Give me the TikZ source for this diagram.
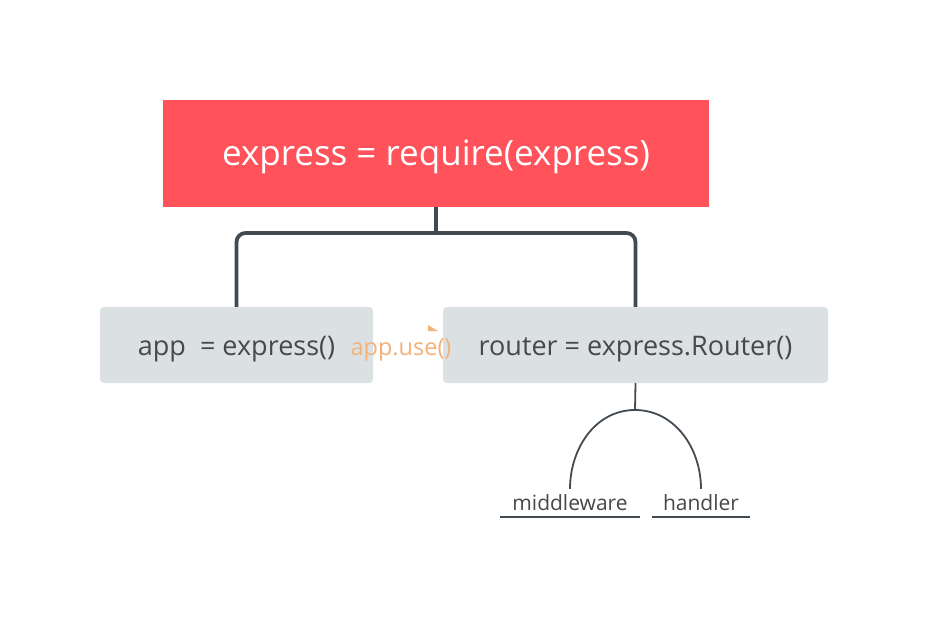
\documentclass[tikz,border=0pt]{standalone}
\usepackage{fontspec}
\setmainfont{Open Sans}
\usetikzlibrary{positioning}

\definecolor{rootred}{RGB}{255,82,90}
\definecolor{boxgray}{RGB}{219,225,227}
\definecolor{linedark}{RGB}{66,74,82}
\definecolor{usecolor}{RGB}{242,178,120}
\definecolor{textgray}{RGB}{72,72,72}

\begin{document}
\begin{tikzpicture}[x=1pt,y=-1pt,
	rootbox/.style={fill=rootred,text=white,font=\fontsize{35}{42}\selectfont,text height=31.6pt,text depth=8pt,minimum width=546pt,minimum height=107pt,inner sep=0pt},
	leafbox/.style={fill=boxgray,text=textgray,rounded corners=4pt,font=\fontsize{27}{32}\selectfont,text height=26pt,text depth=6pt,minimum height=76pt,inner sep=0pt},
	leaf/.style={text=textgray,font=\fontsize{21}{25}\selectfont,minimum height=28pt,inner sep=0pt},
	branch/.style={draw=linedark,line width=3.8pt,rounded corners=9pt},
	twig/.style={draw=linedark,line width=1.8pt}]
	\useasboundingbox[fill=white] (0,0) rectangle (928,618);
	\node[rootbox] (root) at (436,153.5) {express = require(express)};
	\node[leafbox,minimum width=273pt] (app) at (236.5,345) {app\ \ = express()};
	\node[leafbox,minimum width=385pt] (router) at (635.5,345) {router = express.Router()};
	\coordinate (fork) at (436,233);
	\draw[branch] (root.south) -- (fork);
	\draw[branch] (app.north) |- (fork) -| (router.north);
	% app.use
	\node[text=usecolor,font=\fontsize{23.5}{28}\selectfont,inner sep=0pt] (use) at (401,350) {app.use()};
	\fill[usecolor] (428,325) -- (438,331) -- (428,331) -- cycle;
	% router children
	\node[leaf,minimum width=140pt] (mw) at (570,503) {middleware};
	\node[leaf,minimum width=98pt] (hd) at (701,503) {handler};
	\coordinate (split) at (635,410);
	\draw[twig] (router.south) -- (split);
	\draw[twig] (split) to[out=180,in=90] (mw.north);
	\draw[twig] (split) to[out=0,in=90] (hd.north);
	\draw[twig] (mw.south west) -- (mw.south east);
	\draw[twig] (hd.south west) -- (hd.south east);
\end{tikzpicture}
\end{document}
